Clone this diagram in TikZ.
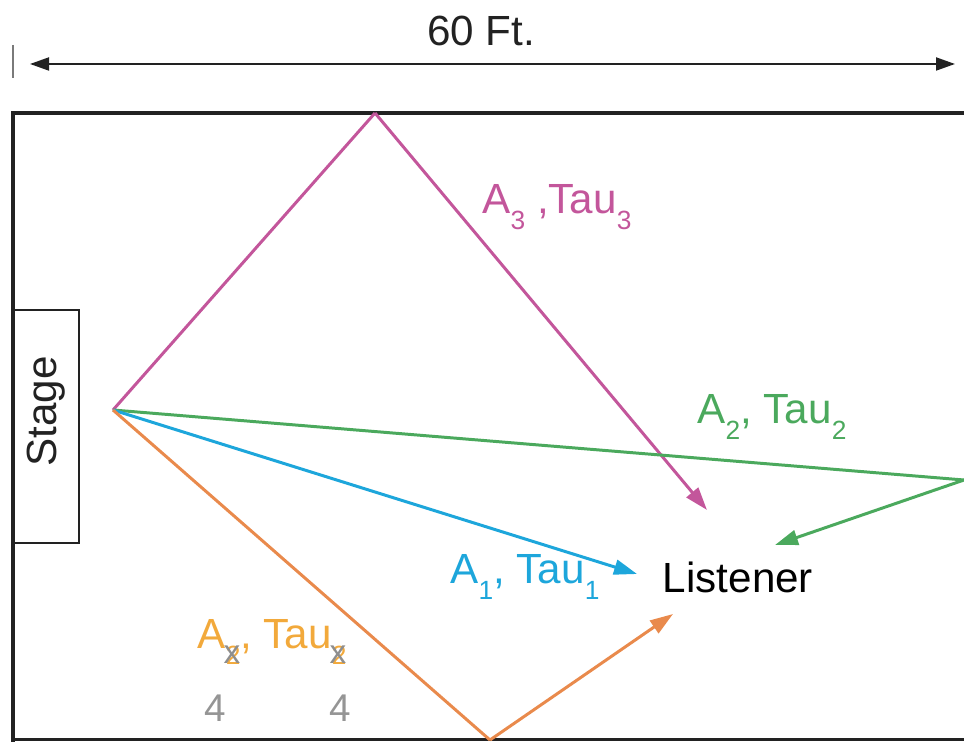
\documentclass[tikz,border=0pt]{standalone}
\usepackage{fontspec}
\setmainfont{Liberation Sans}
\usepackage{xcolor}
\usepackage{tikz}
\usetikzlibrary{positioning, arrows.meta, calc}
\definecolor{path-magenta}{HTML}{C3569B}
\definecolor{path-green}{HTML}{4BA95D}
\definecolor{path-blue}{HTML}{1DA6DB}
\definecolor{path-orange}{HTML}{E98A4C}
\definecolor{label-orange}{HTML}{F2A93B}
\definecolor{room-dark}{HTML}{222222}
\definecolor{hand-gray}{HTML}{7A7A7A}
\newcommand{\lowsub}[1]{\raisebox{-0.38em}{\fontsize{15}{15}\selectfont #1}}
\newcommand{\crosssub}[1]{\raisebox{-0.38em}{\fontsize{15}{15}\selectfont\rlap{#1}\hspace{-0.08em}\raisebox{0.02em}{\fontsize{19}{19}\selectfont\textcolor{hand-gray!85}{x}}}}

\begin{document}
\begin{tikzpicture}[
    wall/.style={draw=room-dark, line width=2pt},
    ray/.style={line width=1.7pt},
    rayarr/.style={ray, -{Triangle[length=0.46cm, width=0.3cm]}},
    lbl/.style={font=\fontsize{24}{28}\selectfont, inner sep=0pt},
    hand/.style={font=\fontsize{22}{26}\selectfont, text=hand-gray!80, inner sep=0pt},
]
    \useasboundingbox (0,0) rectangle (19.28,14.84);

    % Width dimension
    \draw[hand-gray, line width=0.6pt] (0.26,13.94) -- (0.26,13.28);
    \coordinate (dimL) at (0.6,13.56);
    \coordinate (dimR) at (19.1,13.56);
    \draw[room-dark, line width=1.1pt, {Triangle[length=0.38cm, width=0.26cm]}-{Triangle[length=0.38cm, width=0.26cm]}] (dimL) -- (dimR);
    \node[lbl, text=room-dark] (width) at (9.62,14.22) {60 Ft.};

    % Room
    \draw[wall] (19.4,12.58) -- (0.26,12.58) -- (0.26,-0.1);
    \draw[wall] (0.26,0.05) -- (19.4,0.05);

    % Stage
    \node[draw=room-dark, line width=1.5pt, rotate=90, minimum width=4.66cm, minimum height=1.32cm,
          font=\fontsize{24}{28}\selectfont, text=room-dark] (stage) at (0.92,6.31) {\hspace*{0.6cm}Stage};

    % Source, bounce points and arrival points
    \coordinate (src) at (2.26,6.64);
    \coordinate (ceil) at (7.5,12.58);
    \coordinate (side) at (19.28,5.24);
    \coordinate (floor) at (9.8,0.04);
    \coordinate (endM) at (14.14,4.64);
    \coordinate (endG) at (15.5,3.94);
    \coordinate (endB) at (12.74,3.36);
    \coordinate (endO) at (13.46,2.56);

    % Listener
    \node[lbl, text=black] (listener) at (14.76,3.3) {Listener};

    % Paths
    \draw[ray, path-magenta] (src) -- (ceil);
    \draw[rayarr, path-magenta] (ceil) -- (endM);
    \draw[ray, path-green] (src) -- (side);
    \draw[rayarr, path-green] (side) -- (endG);
    \draw[rayarr, path-blue] (src) -- (endB);
    \draw[ray, path-orange] (src) -- (floor);
    \draw[rayarr, path-orange] (floor) -- (endO);

    % Labels
    \node[lbl, text=path-magenta] (a3) at (11.14,10.7) {A\lowsub{3} ,Tau\lowsub{3}};
    \node[lbl, text=path-green] (a2) at (15.44,6.5) {A\lowsub{2}, Tau\lowsub{2}};
    \node[lbl, text=path-blue] (a1) at (10.5,3.3) {A\lowsub{1}, Tau\lowsub{1}};
    \node[lbl, text=label-orange] (a4) at (5.44,2.0) {A\crosssub{2}, Tau\crosssub{2}};

    % Handwritten corrections
    \node[hand] (fixA) at (4.3,0.68) {4};
    \node[hand] (fixTau) at (6.8,0.68) {4};

\end{tikzpicture}
\end{document}
